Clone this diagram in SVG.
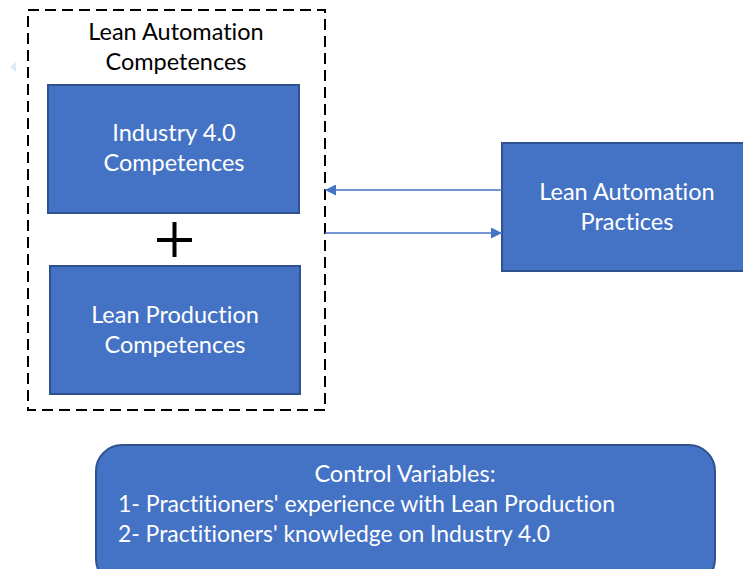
<svg xmlns="http://www.w3.org/2000/svg" width="743" height="569" viewBox="0 0 743 569">
<style>
text{font-family:Lato,"Open Sans","Liberation Sans",sans-serif;font-size:23.5px;font-variant-ligatures:none}
.box{fill:#4472C4;stroke:#2F528F;stroke-width:2}
.wt{fill:#fff;text-anchor:middle}
.bt{fill:#000;text-anchor:middle}
.lt{fill:#fff;text-anchor:start}
.conn{stroke:#4472C4;stroke-width:1.3;fill:none}
</style>
<defs>
<marker id="ah" viewBox="0 0 10 10" refX="10" refY="5" markerWidth="11" markerHeight="11" markerUnits="userSpaceOnUse" orient="auto">
<path d="M0,0 L10,5 L0,10 z" fill="#4472C4"/>
</marker>
</defs>
<rect width="743" height="569" fill="#fff"/>
<polygon points="10,67 16,62 16,72" fill="#DDEBF7"/>
<g id="lean-automation-competences">
<rect x="28" y="10" width="297" height="400" fill="none" stroke="#000" stroke-width="2" stroke-dasharray="11,6"/>
<text class="bt" x="176" y="40">Lean Automation</text>
<text class="bt" x="176" y="70">Competences</text>
</g>
<g id="industry40">
<rect class="box" x="48" y="85" width="251" height="128"/>
<text class="wt" x="174" y="141">Industry 4.0</text>
<text class="wt" x="174" y="171">Competences</text>
</g>
<g id="plus">
<path d="M157,240 H192 M174.5,222 V257" stroke="#000" stroke-width="4" fill="none"/>
</g>
<g id="lean-production">
<rect class="box" x="50" y="266" width="250" height="128"/>
<text class="wt" x="175" y="323">Lean Production</text>
<text class="wt" x="175" y="353">Competences</text>
</g>
<g id="practices">
<rect class="box" x="502" y="143" width="245" height="128"/>
<text class="wt" x="627" y="200">Lean Automation</text>
<text class="wt" x="627" y="230">Practices</text>
</g>
<g id="control">
<rect class="box" x="96" y="445" width="619" height="140" rx="26"/>
<text class="wt" x="405" y="482">Control Variables:</text>
<text class="lt" x="118" y="512" textLength="497" lengthAdjust="spacingAndGlyphs">1- Practitioners' experience with Lean Production</text>
<text class="lt" x="118" y="542" textLength="432" lengthAdjust="spacingAndGlyphs">2- Practitioners' knowledge on Industry 4.0</text>
</g>
<g id="connectors">
<line class="conn" x1="502" y1="190" x2="325" y2="190" marker-end="url(#ah)"/>
<line class="conn" x1="325" y1="233" x2="502" y2="233" marker-end="url(#ah)"/>
</g>
</svg>
